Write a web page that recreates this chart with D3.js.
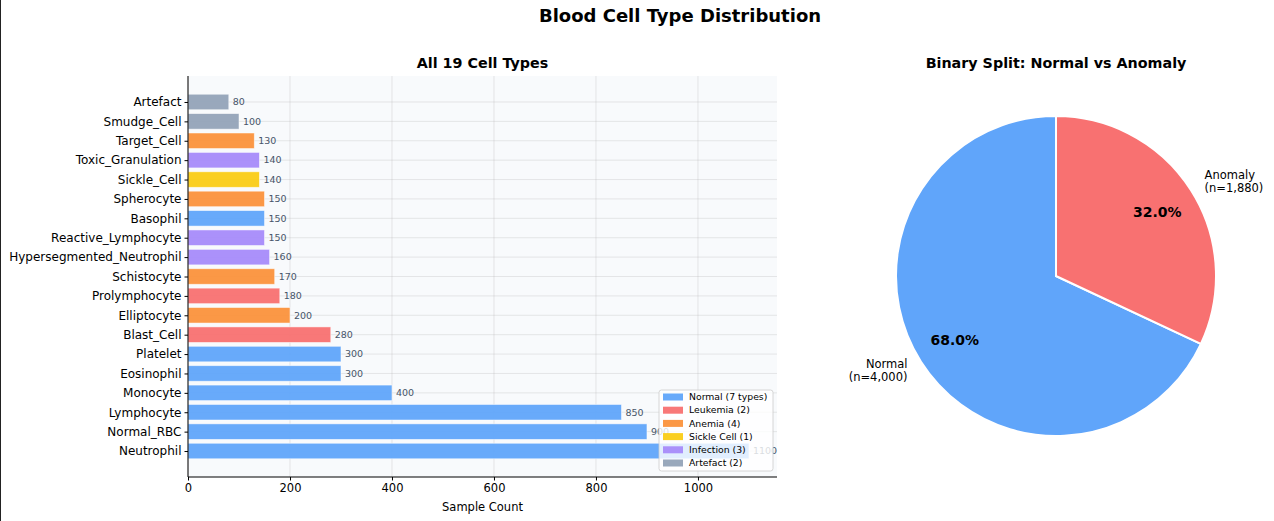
<!DOCTYPE html>
<html>
<head>
<meta charset="utf-8">
<script src="https://cdn.jsdelivr.net/npm/d3@7"></script>
<style>
html,body{margin:0;padding:0;background:#fff;}
svg{display:block;font-family:"DejaVu Sans",sans-serif;}
</style>
</head>
<body>
<svg id="chart" width="1274" height="521"></svg>
<script>
const categories = ["Neutrophil","Normal_RBC","Lymphocyte","Monocyte","Eosinophil","Platelet","Blast_Cell","Elliptocyte","Prolymphocyte","Schistocyte","Hypersegmented_Neutrophil","Reactive_Lymphocyte","Basophil","Spherocyte","Sickle_Cell","Toxic_Granulation","Target_Cell","Smudge_Cell","Artefact"];
const counts = [1100,900,850,400,300,300,280,200,180,170,160,150,150,150,140,140,130,100,80];
const groups = ["Normal","Normal","Normal","Normal","Normal","Normal","Leukemia","Anemia","Leukemia","Anemia","Infection","Infection","Normal","Anemia","Sickle","Infection","Anemia","Artefact","Artefact"];
const groupNames = ["Normal","Leukemia","Anemia","Sickle","Infection","Artefact"];
const groupLabels = ["Normal (7 types)","Leukemia (2)","Anemia (4)","Sickle Cell (1)","Infection (3)","Artefact (2)"];
const groupColors = ["#60a5fa","#f87171","#fb923c","#facc15","#a78bfa","#94a3b8"];
const xTicks = [0,200,400,600,800,1000];
const pieLabels = ["Normal","Anomaly"];
const pieValues = [4000,1880];
const pieColors = ["#60a5fa","#f87171"];

const svg = d3.select("#chart");
const color = d3.scaleOrdinal().domain(groupNames).range(groupColors);

// left border
svg.append("line").attr("x1",0.5).attr("x2",0.5).attr("y1",0).attr("y2",521).attr("stroke","#222").attr("stroke-width",1);

// suptitle
svg.append("text").attr("x",680).attr("y",22).attr("text-anchor","middle")
  .attr("font-size",18).attr("font-weight","bold").attr("fill","#000").text("Blood Cell Type Distribution");

// ---- Bar chart ----
const L=188, R=777, T=76, B=477;
const x = d3.scaleLinear().domain([0,1155]).range([L,R]);
const y = d3.scaleLinear().domain([-1.34,19.34]).range([B,T]);
const g = svg.append("g");
g.append("rect").attr("x",L).attr("y",T).attr("width",R-L).attr("height",B-T).attr("fill","#f8fafc");

// grid
g.selectAll(".vg").data(xTicks).join("line")
  .attr("x1",d=>x(d)).attr("x2",d=>x(d)).attr("y1",T).attr("y2",B)
  .attr("stroke","#b0b0b0").attr("stroke-opacity",0.35).attr("stroke-width",0.8);
g.selectAll(".hg").data(categories).join("line")
  .attr("x1",L).attr("x2",R).attr("y1",(d,i)=>y(i)).attr("y2",(d,i)=>y(i))
  .attr("stroke","#b0b0b0").attr("stroke-opacity",0.35).attr("stroke-width",0.8);

const bh = y(0)-y(0.8);
g.selectAll(".bar").data(counts).join("rect")
  .attr("x",x(0)).attr("y",(d,i)=>y(i)-bh/2)
  .attr("width",d=>x(d)-x(0)).attr("height",bh)
  .attr("fill",(d,i)=>color(groups[i])).attr("fill-opacity",0.95)
  .attr("stroke","#ffffff").attr("stroke-opacity",0.6).attr("stroke-width",0.8);

g.selectAll(".val").data(counts).join("text")
  .attr("x",d=>x(d)+4).attr("y",(d,i)=>y(i)).attr("dy","0.35em")
  .attr("font-size",9.5).attr("fill","#475569").text(d=>d);

// axes
const xAxis = d3.axisBottom(x).tickValues(xTicks).tickSize(3.5).tickPadding(3).tickFormat(d3.format("d"));
const xg = svg.append("g").attr("transform",`translate(0,${B})`).call(xAxis);
xg.select(".domain").remove();
xg.selectAll("text").attr("font-size",11.5).attr("fill","#000").style("font-family","DejaVu Sans");
xg.selectAll("line").attr("stroke","#000");
const yAxis = d3.axisLeft(y).tickValues(d3.range(categories.length)).tickSize(3.5).tickPadding(3).tickFormat(i=>categories[i]);
const yg = svg.append("g").attr("transform",`translate(${L},0)`).call(yAxis);
yg.select(".domain").remove();
yg.selectAll("text").attr("font-size",12).attr("fill","#000").style("font-family","DejaVu Sans");
yg.selectAll("line").attr("stroke","#000");
svg.append("line").attr("x1",L).attr("x2",L).attr("y1",T).attr("y2",B).attr("stroke","#000").attr("stroke-width",1);
svg.append("line").attr("x1",L).attr("x2",R).attr("y1",B).attr("y2",B).attr("stroke","#000").attr("stroke-width",1);

svg.append("text").attr("x",(L+R)/2).attr("y",511).attr("text-anchor","middle").attr("font-size",11.5).text("Sample Count");
svg.append("text").attr("x",(L+R)/2).attr("y",68).attr("text-anchor","middle").attr("font-size",14.3).attr("font-weight","bold").text("All 19 Cell Types");

// legend
const lg = svg.append("g").attr("transform","translate(659,390)");
lg.append("rect").attr("width",114).attr("height",81).attr("rx",2.5)
  .attr("fill","#fff").attr("fill-opacity",0.8).attr("stroke","#ccc").attr("stroke-width",0.8);
groupNames.forEach((gname,i)=>{
  const yy = 7 + i*13.2;
  lg.append("rect").attr("x",4).attr("y",yy-3.5).attr("width",20).attr("height",7).attr("fill",groupColors[i]).attr("fill-opacity",0.95);
  lg.append("text").attr("x",30).attr("y",yy).attr("dy","0.35em").attr("font-size",9.3).attr("fill","#000").text(groupLabels[i]);
});

// ---- Pie ----
const cx=1056, cy=276, r=160;
const pg = svg.append("g").attr("transform",`translate(${cx},${cy})`);
const pie = d3.pie().sort(null).startAngle(0).endAngle(-2*Math.PI);
const arcs = pie(pieValues);
const arc = d3.arc().innerRadius(0).outerRadius(r);
pg.selectAll("path").data(arcs).join("path").attr("d",arc)
  .attr("fill",(d,i)=>pieColors[i]).attr("stroke","#fff").attr("stroke-width",2);
const total = d3.sum(pieValues);
arcs.forEach((a,i)=>{
  const mid=(a.startAngle+a.endAngle)/2;
  const sx=Math.sin(mid), sy=-Math.cos(mid);
  const lx=sx*r*1.1, ly=sy*r*1.1;
  const t = pg.append("text").attr("x",lx).attr("y",ly).attr("text-anchor",sx<0?"end":"start").attr("font-size",11.5).attr("fill","#000");
  t.append("tspan").attr("x",lx).attr("dy","-0.25em").text(pieLabels[i]);
  t.append("tspan").attr("x",lx).attr("dy","1.15em").text(`(n=${d3.format(",")(pieValues[i])})`);
  pg.append("text").attr("x",sx*r*0.75).attr("y",sy*r*0.75).attr("dy","0.35em").attr("text-anchor","middle")
    .attr("font-size",14).attr("font-weight","bold").text(d3.format(".1f")(pieValues[i]/total*100)+"%");
});
svg.append("text").attr("x",cx).attr("y",68).attr("text-anchor","middle").attr("font-size",14.3).attr("font-weight","bold").text("Binary Split: Normal vs Anomaly");
</script>
</body>
</html>
